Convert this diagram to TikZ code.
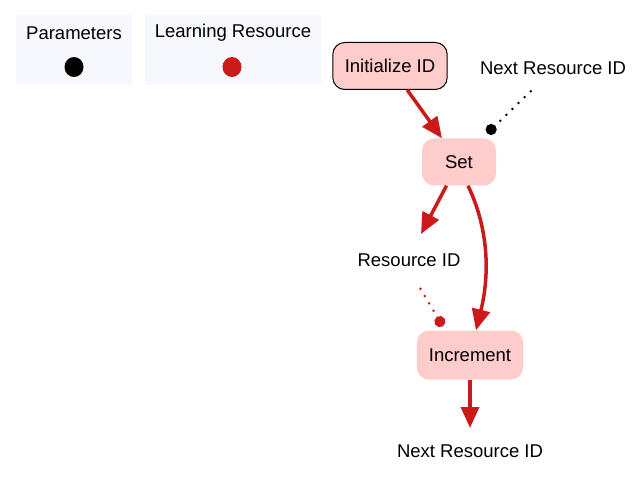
\documentclass[tikz,border=0pt]{standalone}
\usepackage{fontspec}
\setmainfont{Liberation Sans}
\usetikzlibrary{arrows.meta,positioning,calc}
\definecolor{Flow}{HTML}{CC1A1A}
\definecolor{Step}{HTML}{FFCCCC}
\definecolor{Legend}{HTML}{F7F8FD}

\begin{document}
\begin{tikzpicture}[x=1pt, y=-1pt, font=\fontsize{18.5}{21}\selectfont,
  legbox/.style={fill=Legend, draw=none},
  stepbox/.style={rounded corners=12pt, fill=Step, align=center, inner xsep=12pt, minimum width=74pt, minimum height=47pt},
  arr/.style={-{Triangle[length=21pt, width=18pt]}, line width=3.5pt, draw=Flow},
  pdot/.style={{Circle[length=11pt]}-, line width=2.8pt, dash pattern=on 0pt off 8.5pt, line cap=round} ]

\useasboundingbox (0,0) rectangle (643,481);

% legend
\fill[Legend] (16,15) rectangle (132,85);
\fill[Legend] (145,15) rectangle (321,85);
\node (legPar) at (74,33) {Parameters};
\node (legRes) at (233,33) {Learning Resource};
\fill[black] (74,67) ellipse (9.5pt and 10pt);
\fill[Flow] (232,67) ellipse (9.5pt and 10pt);

% steps
\node[stepbox, draw=black, line width=1pt] (init) at (390,66) {Initialize ID};
\node[stepbox] (set) at (459,162) {Set};
\node[stepbox, minimum height=49pt] (incr) at (470,355) {Increment};

% parameters
\node (nextIn) at (553,68) {Next Resource ID};
\node (resId) at (409,260) {Resource ID};
\node (nextOut) at (470,451) {Next Resource ID};
\coordinate (nextInEnd) at (531,91);
\coordinate (resIdIn) at (421,234);
\coordinate (resIdOut) at (417,283);
\coordinate (nextOutIn) at (470,428);

\draw[arr] (init) -- (set);
\draw[arr] (set) -- (resIdIn);
\draw[arr] ([xshift=9pt]set.south) .. controls (494,240) and (486,290) .. ([xshift=6pt]incr.north);
\draw[arr] (incr) -- (nextOutIn);

\draw[pdot, black] ([xshift=-9pt, yshift=5pt]set.north east) -- (nextInEnd);
\draw[pdot, Flow] ([xshift=26pt, yshift=4pt]incr.north west) -- (resIdOut);

\end{tikzpicture}
\end{document}
